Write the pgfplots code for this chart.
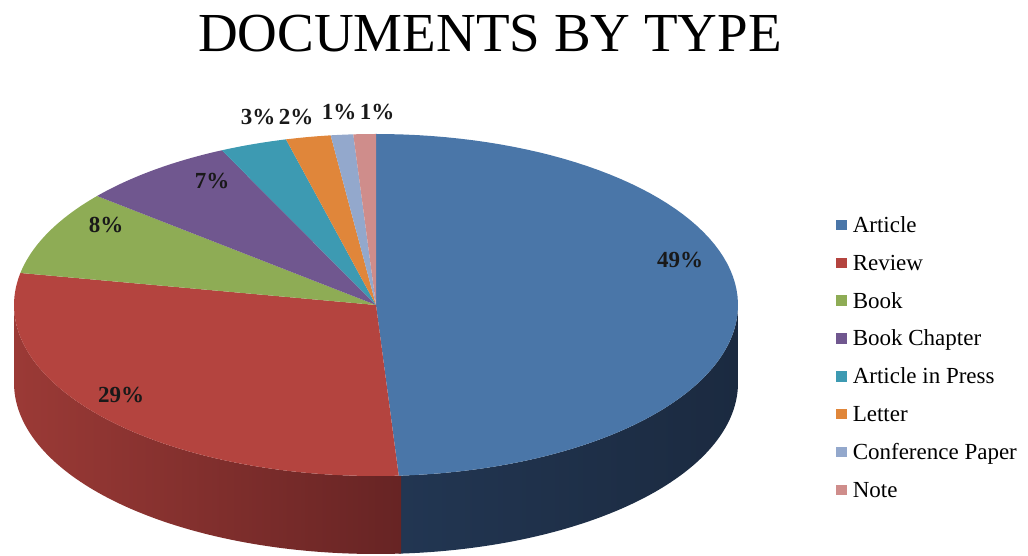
\documentclass[border=0pt]{standalone}
\usepackage{pgfplots}
\pgfplotsset{compat=1.18}
\usepackage{fontspec}
\setmainfont{Liberation Serif}

\definecolor{cArt}{HTML}{4A76A8}
\definecolor{cRev}{HTML}{B4443F}
\definecolor{cBook}{HTML}{8EAC55}
\definecolor{cChap}{HTML}{70578F}
\definecolor{cPress}{HTML}{3D9AB2}
\definecolor{cLet}{HTML}{E0863A}
\definecolor{cConf}{HTML}{93A8CC}
\definecolor{cNote}{HTML}{CF8D8B}
\definecolor{sArtL}{HTML}{223652}
\definecolor{sArtR}{HTML}{1B2A40}
\definecolor{sRevL}{HTML}{9B3A36}
\definecolor{sRevR}{HTML}{672424}

% pie geometry in pixels: centre (376,251), radii 362 x 171, depth 78
% top face of a slice: #1 = cumulative % at start, #2 = cumulative % at end
\newcommand\slicetop[3]{%
  \addplot[forget plot, draw=none, fill=#3, domain={3.6*#1}:{3.6*#2}, samples=80]
    ({376+362*sin(x)},{251+171*cos(x)}) -- (axis cs:376,251) -- cycle;}
% visible side of a slice: top arc, vertical edge, bottom arc back
\newcommand\sliceside[4]{%
  \addplot[forget plot, draw=none, left color=#3, right color=#4, domain=0:3, samples=241]
    ({376+362*sin(3.6*#1+3.6*(#2-#1)*(min(x,1)-max(x-2,0)))},
     {251+171*cos(3.6*#1+3.6*(#2-#1)*(min(x,1)-max(x-2,0)))-78*min(max(x-1,0),1)}) -- cycle;}

\begin{document}
\begin{tikzpicture}
\path[use as bounding box] (0,0) rectangle (514pt,278pt);
\begin{axis}[
  scale only axis, width=514pt, height=278pt,
  xmin=0, xmax=1028, ymin=0, ymax=556,
  hide axis, clip=false,
  legend style={at={(0.8132,0.6115)}, anchor=north west, draw=none, fill=none,
    inner sep=0pt, row sep=8.43pt, column sep=3pt,
    font=\fontsize{11.5}{13}\selectfont,
    nodes={inner sep=0pt, text height=8pt, text depth=2.5pt}},
  legend cell align=left,
  legend image code/.code={\fill[#1,draw=none] (0pt,-1.6pt) rectangle (5.2pt,3.6pt);},
]
% Data (percent of documents): Article 49, Review 29, Book 8, Book Chapter 7,
% Article in Press 3, Letter 2, Conference Paper 1, Note 1
% sides (front half only); Review side overlaps the seam slightly
\sliceside{25}{49}{sArtL}{sArtR}
\sliceside{48.9}{75}{sRevL}{sRevR}
% top faces
\slicetop{0}{49}{cArt}
\slicetop{49}{78}{cRev}
\slicetop{78}{86}{cBook}
\slicetop{86}{93}{cChap}
\slicetop{93}{96}{cPress}
\slicetop{96}{98}{cLet}
\slicetop{98}{99}{cConf}
\slicetop{99}{100}{cNote}

\addlegendimage{fill=cArt}\addlegendentry{Article}
\addlegendimage{fill=cRev}\addlegendentry{Review}
\addlegendimage{fill=cBook}\addlegendentry{Book}
\addlegendimage{fill=cChap}\addlegendentry{Book Chapter}
\addlegendimage{fill=cPress}\addlegendentry{Article in Press}
\addlegendimage{fill=cLet}\addlegendentry{Letter}
\addlegendimage{fill=cConf}\addlegendentry{Conference Paper}
\addlegendimage{fill=cNote}\addlegendentry{Note}

\node[anchor=base, font=\fontsize{27.5}{30}\selectfont] at (axis cs:490,504) {DOCUMENTS BY TYPE};

\begin{scope}[every node/.style={anchor=base, font=\bfseries\fontsize{11.5}{13}\selectfont, text=black!90}]
\node at (axis cs:680,288) {49\%};
\node at (axis cs:121,153) {29\%};
\node at (axis cs:106,323) {8\%};
\node at (axis cs:212,367) {7\%};
\node at (axis cs:258,431) {3\%};
\node at (axis cs:296,431) {2\%};
\node at (axis cs:339,436) {1\%};
\node at (axis cs:377,436) {1\%};
\end{scope}
\end{axis}
\end{tikzpicture}
\end{document}
